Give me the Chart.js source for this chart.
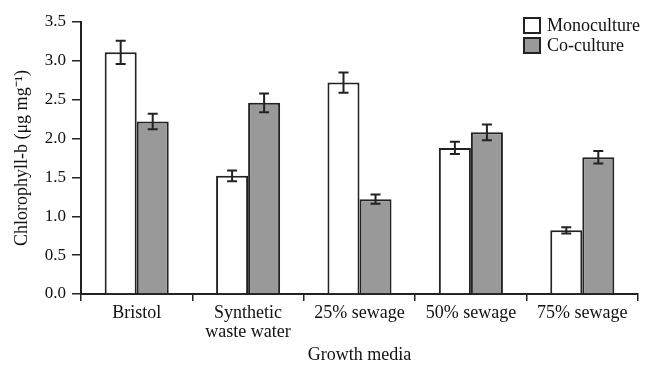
<!DOCTYPE html>
<html>
<head>
<meta charset="utf-8">
<script src="https://cdn.jsdelivr.net/npm/chart.js@4.4.1/dist/chart.umd.min.js"></script>
<style>
    body { margin: 0; background: #fff; }
    #wrap { width: 653px; height: 366px; position: relative; }
</style>
</head>
<body>
<div id="wrap"><canvas id="myChart"></canvas></div>
<script>
// valores
var categories = ['Bristol', ['Synthetic', 'waste water'], '25% sewage', '50% sewage', '75% sewage'];
var monoculture = [3.11, 1.52, 2.72, 1.88, 0.82];
var monoErr = [0.15, 0.07, 0.13, 0.08, 0.04];
var coculture = [2.22, 2.46, 1.22, 2.08, 1.76];
var coErr = [0.10, 0.12, 0.06, 0.10, 0.08];
var yTicks = [0, 0.5, 1.0, 1.5, 2.0, 2.5, 3.0, 3.5];

var fonte = "'Liberation Serif', 'Times New Roman', serif";

// barras de erro desenhadas pela escala y
var errorBars = {
    id: 'errorBars',
    afterDatasetsDraw: function (chart) {
        var ctx = chart.ctx;
        var y = chart.scales.y;
        ctx.save();
        ctx.strokeStyle = '#222';
        ctx.lineWidth = 2;
        chart.data.datasets.forEach(function (ds, i) {
            var meta = chart.getDatasetMeta(i);
            meta.data.forEach(function (bar, j) {
                var v = ds.data[j];
                var e = ds.errors[j];
                var top = y.getPixelForValue(v + e);
                var bot = y.getPixelForValue(v - e);
                var x = bar.x;
                ctx.beginPath();
                ctx.moveTo(x, top); ctx.lineTo(x, bot);
                ctx.moveTo(x - 5, top); ctx.lineTo(x + 5, top);
                ctx.moveTo(x - 5, bot); ctx.lineTo(x + 5, bot);
                ctx.stroke();
            });
        });
        ctx.restore();
    }
};

// legenda dentro da area, canto superior direito
var legenda = {
    id: 'legenda',
    afterDraw: function (chart) {
        var ctx = chart.ctx;
        ctx.save();
        ctx.font = '18px ' + fonte;
        ctx.textBaseline = 'middle';
        chart.data.datasets.forEach(function (ds, i) {
            var yy = 18 + i * 20;
            ctx.fillStyle = ds.backgroundColor;
            ctx.fillRect(524, yy, 16, 15);
            ctx.strokeStyle = '#222';
            ctx.lineWidth = 2;
            ctx.strokeRect(524, yy, 16, 15);
            ctx.fillStyle = '#111';
            ctx.fillText(ds.label, 547, yy + 8);
        });
        ctx.restore();
    }
};

var ctx = document.getElementById('myChart').getContext('2d');
window.myChart = new Chart(ctx, {
    type: 'bar',
    data: {
        labels: categories,
        datasets: [{
            label: 'Monoculture',
            data: monoculture,
            errors: monoErr,
            backgroundColor: '#ffffff',
            borderColor: '#222',
            borderWidth: 2
        }, {
            label: 'Co-culture',
            data: coculture,
            errors: coErr,
            backgroundColor: '#999999',
            borderColor: '#222',
            borderWidth: 2
        }]
    },
    options: {
        responsive: true,
        maintainAspectRatio: false,
        animation: false,
        categoryPercentage: 0.575,
        barPercentage: 1.0,
        layout: { padding: { left: 0, right: 15, top: 22, bottom: 0 } },
        plugins: {
            legend: { display: false },
            tooltip: { enabled: false }
        },
        scales: {
            x: {
                afterFit: function (s) { s.height = 72; },
                grid: {
                    offset: true,
                    drawOnChartArea: false,
                    tickLength: 7,
                    color: '#222',
                    lineWidth: 1.5
                },
                border: { color: '#222', width: 2 },
                ticks: {
                    color: '#111',
                    padding: 2,
                    maxRotation: 0,
                    autoSkip: false,
                    font: { family: fonte, size: 18, lineHeight: 1.1 }
                },
                title: {
                    display: true,
                    text: 'Growth media',
                    color: '#111',
                    padding: { top: 0, bottom: 0 },
                    font: { family: fonte, size: 18 }
                }
            },
            y: {
                min: 0,
                max: 3.5,
                afterFit: function (s) { s.width = 81; },
                afterBuildTicks: function (s) {
                    s.ticks = yTicks.map(function (v) { return { value: v }; });
                },
                grid: {
                    drawOnChartArea: false,
                    tickLength: 9,
                    color: '#222',
                    lineWidth: 1.5
                },
                border: { color: '#222', width: 2 },
                ticks: {
                    color: '#111',
                    padding: 6,
                    font: { family: fonte, size: 17 },
                    callback: function (v) { return Number(v).toFixed(1); }
                },
                title: {
                    display: true,
                    text: 'Chlorophyll-b (\u03bcg mg\u207b\u00b9)',
                    color: '#111',
                    padding: { top: 11, bottom: 0 },
                    font: { family: fonte, size: 18 }
                }
            }
        }
    },
    plugins: [errorBars, legenda]
});
</script>
</body>
</html>
